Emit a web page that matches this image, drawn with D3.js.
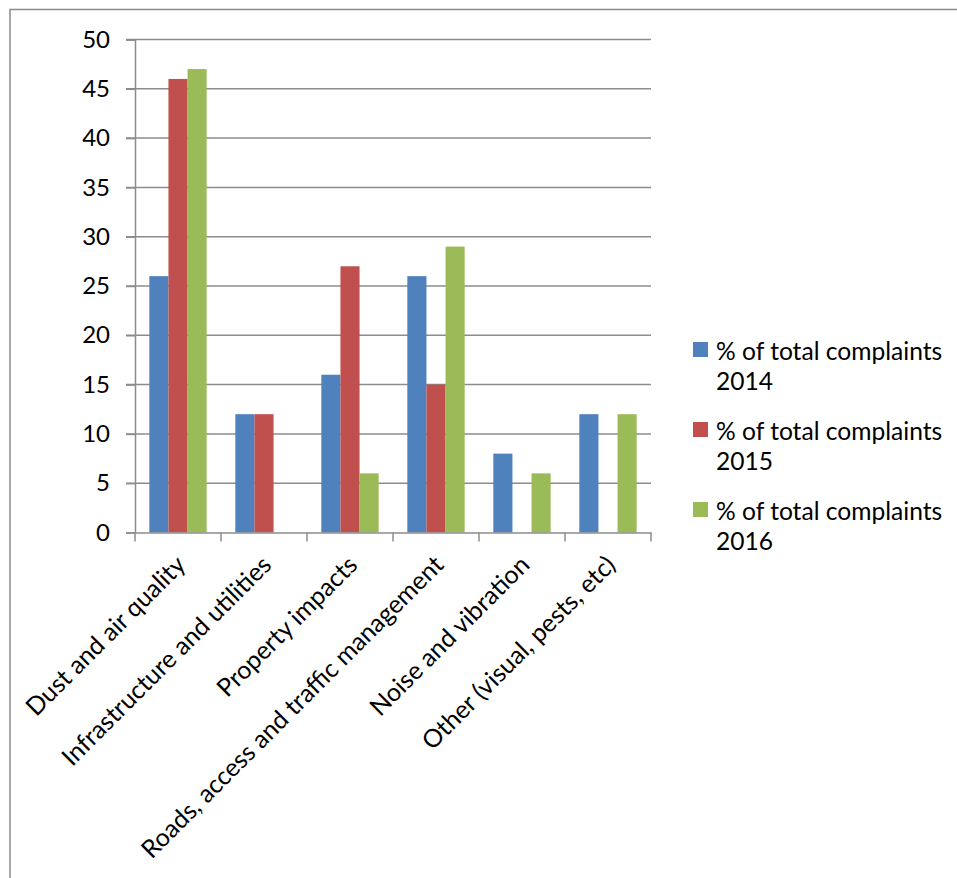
<!DOCTYPE html>
<html>
  <head>
    <style>
      body {
        margin: 0;
        background: #fff;
      }
      svg text {
        font-family: "Lato", "Liberation Sans", sans-serif;
        fill: #000;
      }
    </style>
    <script src="https://d3js.org/d3.v7.min.js"></script>
  </head>
  <body>
    <script>
      const width = 957;
      const height = 878;

      // data
      const categories = [
        "Dust and air quality",
        "Infrastructure and utilities",
        "Property impacts",
        "Roads, access and traffic management",
        "Noise and vibration",
        "Other (visual, pests, etc)"
      ];
      const seriesNames = [
        "% of total complaints 2014",
        "% of total complaints 2015",
        "% of total complaints 2016"
      ];
      const values2014 = [26, 12, 16, 26, 8, 12];
      const values2015 = [46, 12, 27, 15, 0, 0];
      const values2016 = [47, 0, 6, 29, 6, 12];
      const yTicks = [0, 5, 10, 15, 20, 25, 30, 35, 40, 45, 50];
      const colors = ["#4f81bd", "#c0504d", "#9bbb59"];

      const allValues = [values2014, values2015, values2016];

      const plot = { left: 135, right: 651, top: 39.5, bottom: 532.5 };

      const svg = d3
        .select("body")
        .append("svg")
        .attr("width", width)
        .attr("height", height);

      // outer chart frame (cut off on the right and bottom)
      svg
        .append("rect")
        .attr("x", 10)
        .attr("y", 9.5)
        .attr("width", 1000)
        .attr("height", 1000)
        .attr("fill", "none")
        .attr("stroke", "#8c8c8c")
        .attr("stroke-width", 1.5);

      const x = d3
        .scaleBand()
        .domain(categories)
        .range([plot.left, plot.right]);

      const bw = x.bandwidth() / 4.5;
      const xSeries = d3
        .scaleBand()
        .domain(seriesNames)
        .range([0.75 * bw, 3.75 * bw]);

      const y = d3.scaleLinear().domain([0, 50]).range([plot.bottom, plot.top]);

      // gridlines
      svg
        .append("g")
        .selectAll("line")
        .data(yTicks.filter((t) => t > 0))
        .enter()
        .append("line")
        .attr("x1", plot.left - 9)
        .attr("x2", plot.right)
        .attr("y1", (d) => y(d))
        .attr("y2", (d) => y(d))
        .attr("stroke", "#8c8c8c")
        .attr("stroke-width", 1.5);

      // bars
      seriesNames.forEach((s, si) => {
        svg
          .append("g")
          .selectAll("rect")
          .data(categories.map((c, i) => ({ c: c, v: allValues[si][i] })))
          .enter()
          .append("rect")
          .attr("x", (d) => x(d.c) + xSeries(s))
          .attr("y", (d) => y(d.v))
          .attr("width", xSeries.bandwidth())
          .attr("height", (d) => y(0) - y(d.v))
          .attr("fill", colors[si]);
      });

      // y axis
      const yAxis = d3
        .axisLeft(y)
        .tickValues(yTicks)
        .tickSize(9)
        .tickPadding(16);
      const gy = svg
        .append("g")
        .attr("transform", "translate(" + plot.left + ",0)")
        .call(yAxis);
      gy.select(".domain").attr("stroke", "#8c8c8c").attr("stroke-width", 1.5);
      gy.selectAll(".tick line").attr("stroke", "#8c8c8c").attr("stroke-width", 1.5);
      gy.selectAll(".tick text")
        .style("font-size", "24px")
        .style("font-family", "Lato, sans-serif");

      // x axis
      const xAxis = d3.axisBottom(x).tickSize(0).tickFormat("");
      const gx = svg
        .append("g")
        .attr("transform", "translate(0," + plot.bottom + ")")
        .call(xAxis);
      gx.select(".domain").attr("stroke", "#8c8c8c").attr("stroke-width", 1.5);

      // x tick marks at band boundaries
      const bounds = categories.map((c) => x(c)).concat([plot.right]);
      gx.selectAll(".bound")
        .data(bounds)
        .enter()
        .append("line")
        .attr("x1", (d) => d)
        .attr("x2", (d) => d)
        .attr("y1", 0)
        .attr("y2", 9)
        .attr("stroke", "#8c8c8c")
        .attr("stroke-width", 1.5);

      // rotated category labels
      svg
        .append("g")
        .selectAll("text")
        .data(categories)
        .enter()
        .append("text")
        .attr("text-anchor", "end")
        .attr(
          "transform",
          (d) =>
            "translate(" + (x(d) + x.bandwidth() / 2 + 9) + "," + (plot.bottom + 34) + ") rotate(-45)"
        )
        .style("font-size", "25px")
        .text((d) => d);

      // legend
      const legend = svg
        .append("g")
        .selectAll("g")
        .data(seriesNames)
        .enter()
        .append("g")
        .attr("transform", (d, i) => "translate(693," + (342 + i * 80) + ")");

      legend
        .append("rect")
        .attr("width", 15)
        .attr("height", 15)
        .attr("fill", (d, i) => colors[i]);

      legend
        .append("text")
        .attr("x", 23)
        .attr("y", 18)
        .style("font-size", "24.6px")
        .text((d) => d.replace(/ \d{4}$/, ""));

      legend
        .append("text")
        .attr("x", 23)
        .attr("y", 48)
        .style("font-size", "24.6px")
        .text((d) => d.match(/\d{4}$/)[0]);
    </script>
  </body>
</html>
